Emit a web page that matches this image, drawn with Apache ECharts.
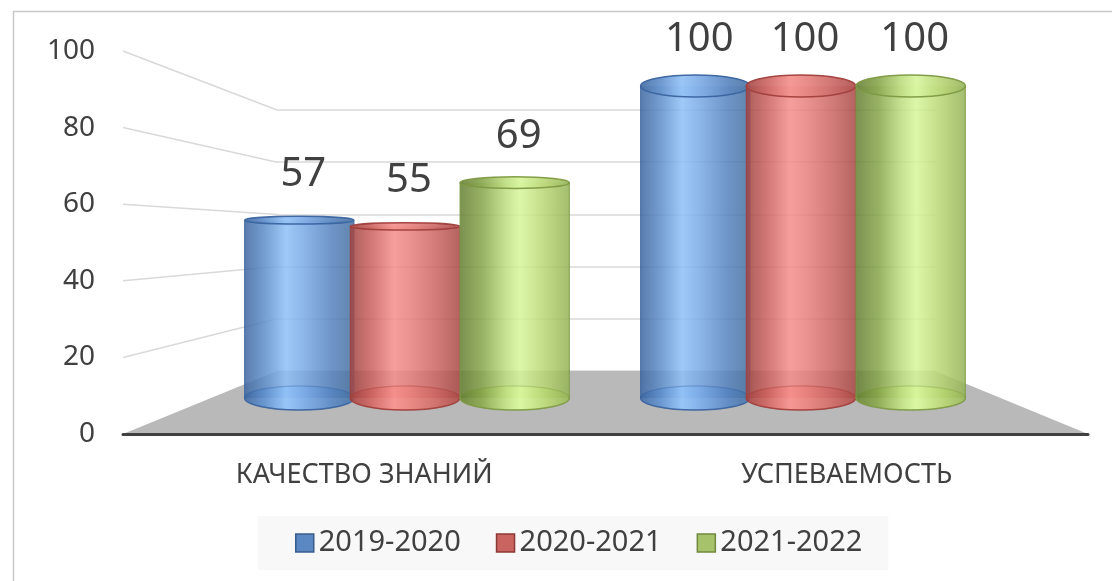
<!DOCTYPE html>
<html>
<head>
<meta charset="utf-8">
<script src="https://cdn.jsdelivr.net/npm/echarts@6/dist/echarts.min.js"></script>
<style>
  html, body { margin: 0; padding: 0; background: #fff; }
  #chart { width: 1112px; height: 581px; }
</style>
</head>
<body>
<div id="chart"></div>
<script>
// data
const categories = ['КАЧЕСТВО ЗНАНИЙ', 'УСПЕВАЕМОСТЬ'];
const seriesNames = ['2019-2020', '2020-2021', '2021-2022'];
const values2019 = [57, 100];
const values2020 = [55, 100];
const values2021 = [69, 100];
const yTicks = [0, 20, 40, 60, 80, 100];

// three planes of the fake 3d box: front, middle (cylinders), back wall
const front = { left: 123, top: 51, width: 965, height: 383 };
const middle = { left: 207, top: 86, width: 792, height: 312 };
const back = { left: 277, top: 110, width: 658, height: 261 };

const font = 'Noto Sans';
const textColor = '#404040';

const palette = [
  { stops: ['#3e679f', '#5e8dc9', '#8fc0f6', '#79a8e4', '#5683be', '#46709f'],
    pos: [0, 0.18, 0.38, 0.55, 0.8, 1], line: '#3a64a0', legend: '#5b87c2', legendBorder: '#385d8a' },
  { stops: ['#9e4341', '#c8605d', '#f48e8b', '#e6807c', '#c86461', '#a94a47'],
    pos: [0, 0.18, 0.4, 0.55, 0.8, 1], line: '#a13f3c', legend: '#c96461', legendBorder: '#8c3836' },
  { stops: ['#667f35', '#86a44a', '#bede80', '#d6f59a', '#b4d16f', '#94b257'],
    pos: [0, 0.2, 0.42, 0.55, 0.8, 1], line: '#7e9a45', legend: '#a6c36c', legendBorder: '#71893f' }
];
const offsets = [-0.267, 0, 0.277];

function grad(p, lighten) {
  return {
    type: 'linear', x: 0, y: 0, x2: 1, y2: 0,
    colorStops: p.stops.map((c, i) => ({ offset: p.pos[i], color: lighten ? echarts.color.lift(c, lighten) : c }))
  };
}

function cylinder(idx) {
  const p = palette[idx];
  return function (params, api) {
    const cat = api.value(0);
    const v = api.value(1);
    const band = api.size([1, 0])[0];
    const base = api.coord([cat, 0]);
    const top = api.coord([cat, v]);
    const cx = base[0] + offsets[idx] * band;
    const rx = band * 0.138;
    const ryB = rx * 0.22;
    const ryT = rx * (0.05 + 0.15 * Math.max(0, (v - 50) / 50));
    return {
      type: 'group',
      children: [
        { type: 'ellipse', shape: { cx: cx, cy: base[1], rx: rx, ry: ryB },
          style: { fill: grad(p, -0.04), stroke: p.line, lineWidth: 1.5, opacity: 0.9 } },
        { type: 'rect', shape: { x: cx - rx, y: top[1], width: rx * 2, height: base[1] - top[1] },
          style: { fill: grad(p), opacity: 0.86 } },
        { type: 'line', shape: { x1: cx - rx, y1: top[1], x2: cx - rx, y2: base[1] },
          style: { stroke: p.line, lineWidth: 1.2, opacity: 0.8 } },
        { type: 'line', shape: { x1: cx + rx, y1: top[1], x2: cx + rx, y2: base[1] },
          style: { stroke: p.line, lineWidth: 1.2, opacity: 0.8 } },
        { type: 'ellipse', shape: { cx: cx, cy: base[1], rx: rx, ry: ryB },
          style: { fill: 'none', stroke: p.line, lineWidth: 1, opacity: 0.3 } },
        { type: 'ellipse', shape: { cx: cx, cy: top[1], rx: rx, ry: ryT },
          style: { fill: grad(p, 0.06), stroke: p.line, lineWidth: 1.5, opacity: 0.95 } },
        { type: 'text', x: cx + 4, y: top[1] - 46,
          style: { text: String(v), fill: textColor, fontSize: 40, fontFamily: font,
                   align: 'center', verticalAlign: 'middle' } }
      ]
    };
  };
}

const allValues = [values2019, values2020, values2021];

const chart = echarts.init(document.getElementById('chart'), null, { renderer: 'canvas' });

const option = {
  animation: false,
  textStyle: { fontFamily: font },
  grid: [
    Object.assign({}, front),
    Object.assign({}, middle),
    Object.assign({}, back)
  ],
  xAxis: [
    { type: 'category', gridIndex: 0, data: categories, z: 5,
      axisLine: { lineStyle: { color: '#404040', width: 3 } },
      axisTick: { show: false },
      axisLabel: { fontSize: 27, color: textColor, margin: 28, fontFamily: font } },
    { type: 'category', gridIndex: 1, data: categories, show: false },
    { type: 'category', gridIndex: 2, data: categories, show: false }
  ],
  yAxis: [
    { type: 'value', gridIndex: 0, min: 0, max: 100, interval: 20,
      axisLine: { show: false }, axisTick: { show: false }, splitLine: { show: false },
      axisLabel: { fontSize: 28, color: textColor, margin: 28, fontFamily: font } },
    { type: 'value', gridIndex: 1, min: 0, max: 100, interval: 20, show: false },
    { type: 'value', gridIndex: 2, min: 0, max: 100, interval: 20,
      axisLine: { show: false }, axisTick: { show: false }, axisLabel: { show: false },
      splitLine: { show: true, lineStyle: { color: '#d9d9d9', width: 1.5 } } }
  ],
  legend: {
    left: 258, top: 516,
    padding: [12, 26, 12, 37],
    backgroundColor: '#f8f8f8',
    itemWidth: 18, itemHeight: 18, itemGap: 35, itemTextGap: 8,
    icon: 'rect',
    textStyle: { fontSize: 29, color: textColor, fontFamily: font, lineHeight: 30 },
    data: seriesNames.map((n, i) => ({
      name: n,
      itemStyle: { color: palette[i].legend, borderColor: palette[i].legendBorder, borderWidth: 1.5 }
    }))
  },
  series: seriesNames.map((n, i) => ({
    name: n,
    type: 'custom',
    xAxisIndex: 1,
    yAxisIndex: 1,
    z: 2,
    itemStyle: { color: palette[i].legend },
    encode: { x: 0, y: 1 },
    renderItem: cylinder(i),
    data: allValues[i].map((v, c) => [c, v])
  })),
  graphic: [
    { id: 'border', type: 'rect', z: 0, silent: true,
      shape: { x: 13.5, y: 11.5, width: 1120, height: 600 },
      style: { fill: 'none', stroke: '#c9c9c9', lineWidth: 1.5 } }
  ]
};

chart.setOption(option);

// perspective pieces: slanted grid lines and floor, placed from the axes' own scales
const yFront = v => chart.convertToPixel({ yAxisIndex: 0 }, v);
const yBack = v => chart.convertToPixel({ yAxisIndex: 2 }, v);
const extra = yTicks.filter(v => v > 0).map(v => ({
  id: 'slant' + v, type: 'line', z: 0, silent: true,
  shape: { x1: front.left, y1: yFront(v), x2: back.left, y2: yBack(v) },
  style: { stroke: '#d9d9d9', lineWidth: 1.5 }
}));
extra.push({
  id: 'floor', type: 'polygon', z: 1, silent: true,
  shape: { points: [
    [front.left, yFront(0)], [front.left + front.width, yFront(0)],
    [back.left + back.width, yBack(0)], [back.left, yBack(0)]
  ] },
  style: { fill: '#b9b9b9' }
});
chart.setOption({ graphic: extra });
</script>
</body>
</html>
